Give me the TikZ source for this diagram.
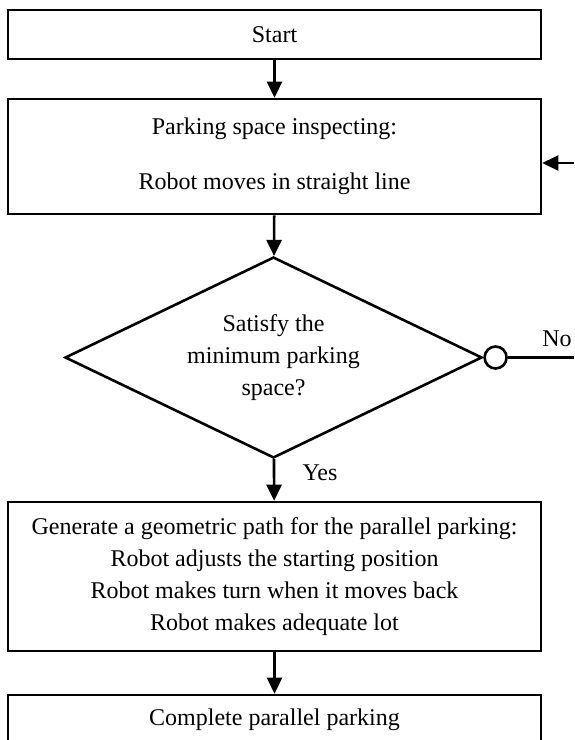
\documentclass[tikz,border=0pt]{standalone}
\usepackage{fontspec}
\setmainfont{Liberation Serif}
\usetikzlibrary{positioning}
\usetikzlibrary{shapes.geometric}
\usepgflibrary{arrows.meta}

\tikzset{
  box/.style={draw, line width=2.6pt, minimum width=533pt, align=center, inner sep=0pt},
  arr/.style={line width=2.6pt, -{Triangle[length=16pt 0, width=15pt 0]}},
}

\begin{document}
\begin{tikzpicture}[x=1pt, y=-1pt, font=\fontsize{24}{32}\selectfont]
  \useasboundingbox (0,0) rectangle (574,740);
  \clip (0,0) rectangle (574,740);

  \node[box, minimum height=49pt] (start) at (274.5,34.5) {Start};
  \node[box, minimum height=115pt] (inspect) at (274.5,156.5)
    {Parking space inspecting:\\[23pt] Robot moves in straight line};
  \node[draw, diamond, aspect=2.07, line width=2.6pt, minimum width=417pt,
    minimum height=201pt, inner sep=0pt, align=center] (check) at (273.5,357.5)
    {Satisfy the\\ minimum parking\\ space?};
  \node[draw, circle, line width=2.6pt, minimum size=22pt, inner sep=0pt,
    right=0pt of check] (dot) {};
  \node[box, minimum height=149pt] (gen) at (274.5,576.5)
    {Generate a geometric path for the parallel parking:\\
     Robot adjusts the starting position\\
     Robot makes turn when it moves back\\
     Robot makes adequate lot};
  \node[box, minimum height=50pt] (done) at (274.5,720) {Complete parallel parking};

  \node (no) at (557,339) {No};
  \node (yes) at (320,473) {Yes};

  \coordinate (noend) at (574,357.5);
  \coordinate (back) at (574,163);

  \draw[arr] (start) -- (inspect);
  \draw[arr] (inspect) -- (check);
  \draw[line width=2.6pt] (dot) -- (noend);
  \draw[arr] (back) -- (back -| inspect.east);
  \draw[arr] (check) -- (gen);
  \draw[arr] (gen) -- (done);
  %\draw[line width=2.6pt] (noend) -- (back);
\end{tikzpicture}
\end{document}
